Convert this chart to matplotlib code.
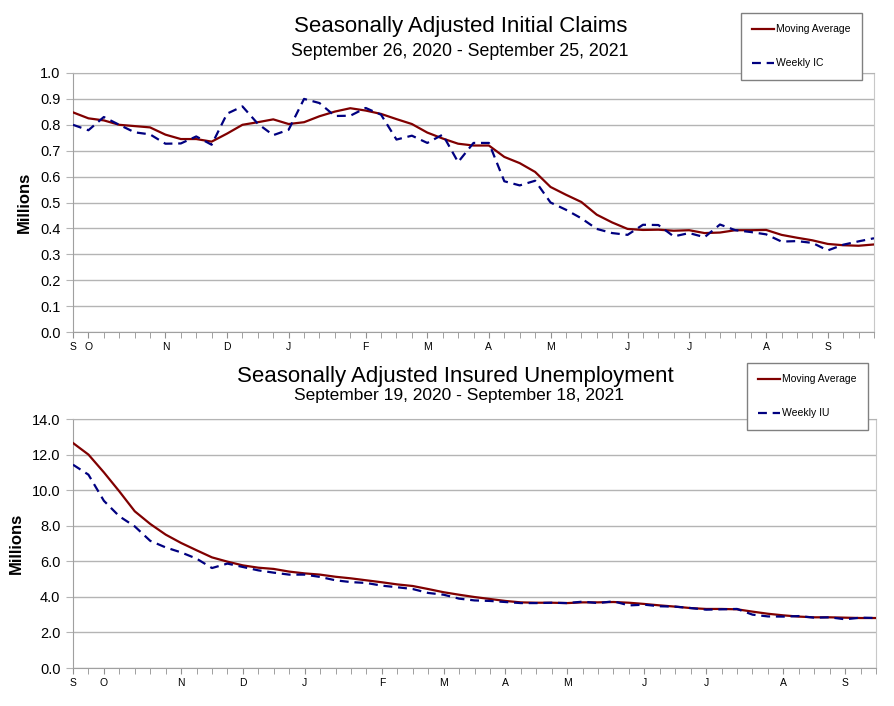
import matplotlib
matplotlib.use("Agg")
import matplotlib.pyplot as plt
import numpy as np

plt.rcParams['font.family'] = ['Liberation Sans', 'DejaVu Sans']

# Initial claims, weekly, Sep 26 2020 - Sep 25 2021 (millions)
ic_avg = [0.848, 0.825, 0.817, 0.800, 0.795, 0.790, 0.762, 0.745, 0.745, 0.735,
          0.766, 0.800, 0.810, 0.821, 0.803, 0.810, 0.833, 0.851, 0.864, 0.855,
          0.842, 0.822, 0.803, 0.770, 0.747, 0.727, 0.720, 0.720, 0.676, 0.652,
          0.618, 0.560, 0.530, 0.502, 0.453, 0.423, 0.398, 0.394, 0.395, 0.391,
          0.393, 0.382, 0.384, 0.393, 0.393, 0.394, 0.375, 0.364, 0.354, 0.340,
          0.335, 0.333, 0.338]
ic_weekly = [0.800, 0.779, 0.830, 0.800, 0.771, 0.763, 0.727, 0.728, 0.755, 0.723,
             0.843, 0.871, 0.804, 0.760, 0.781, 0.900, 0.884, 0.834, 0.835, 0.865,
             0.839, 0.743, 0.758, 0.730, 0.762, 0.656, 0.730, 0.730, 0.582, 0.566,
             0.584, 0.500, 0.472, 0.439, 0.398, 0.382, 0.375, 0.414, 0.413, 0.369,
             0.382, 0.366, 0.415, 0.393, 0.386, 0.377, 0.349, 0.351, 0.344, 0.315,
             0.337, 0.350, 0.362]
ic_month_idx = [0, 1, 6, 10, 14, 19, 23, 27, 31, 36, 40, 45, 49]

# Insured unemployment, weekly, Sep 19 2020 - Sep 18 2021 (millions)
iu_avg = [12.65, 12.00, 11.00, 9.93, 8.81, 8.10, 7.50, 7.03, 6.62, 6.22,
          5.98, 5.77, 5.64, 5.57, 5.42, 5.32, 5.25, 5.13, 5.04, 4.93,
          4.82, 4.70, 4.61, 4.44, 4.26, 4.12, 3.99, 3.88, 3.77, 3.69,
          3.67, 3.67, 3.65, 3.69, 3.69, 3.71, 3.67, 3.60, 3.52, 3.45,
          3.37, 3.32, 3.32, 3.30, 3.17, 3.05, 2.96, 2.89, 2.85, 2.85,
          2.83, 2.81, 2.81]
iu_weekly = [11.43, 10.87, 9.40, 8.53, 7.96, 7.15, 6.78, 6.50, 6.15, 5.62,
             5.87, 5.68, 5.49, 5.36, 5.25, 5.25, 5.12, 4.93, 4.83, 4.78,
             4.63, 4.54, 4.44, 4.22, 4.12, 3.90, 3.80, 3.77, 3.71, 3.65,
             3.65, 3.67, 3.65, 3.73, 3.65, 3.75, 3.52, 3.56, 3.47, 3.45,
             3.37, 3.28, 3.30, 3.32, 3.00, 2.90, 2.89, 2.92, 2.83, 2.85,
             2.74, 2.83, 2.81]
iu_month_idx = [0, 2, 7, 11, 15, 20, 24, 28, 32, 37, 41, 46, 50]

month_labels = ['S', 'O', 'N', 'D', 'J', 'F', 'M', 'A', 'M', 'J', 'J', 'A', 'S']

W, H = 894, 706
fig = plt.figure(figsize=(W / 100, H / 100), dpi=100)

GRID = '#b4b4b4'
RED = '#800000'
BLUE = '#000080'


def style_axes(ax, n, month_idx, ymax, ystep, fmt):
    ax.set_xlim(0, n - 1)
    ax.set_ylim(0, ymax)
    yt = np.arange(0, ymax + ystep / 2, ystep)
    ax.set_yticks(yt)
    ax.set_yticklabels([fmt % v for v in yt], fontsize=10.5)
    ax.yaxis.grid(True, color=GRID, lw=1)
    ax.set_axisbelow(True)
    ax.set_xticks(range(n), minor=True)
    ax.set_xticks(month_idx)
    ax.set_xticklabels(month_labels, fontsize=7.5)
    ax.tick_params(axis='x', which='both', length=4, color='#909090', pad=3)
    ax.tick_params(axis='y', length=5, color=GRID, pad=4)
    for s in ['left', 'bottom']:
        ax.spines[s].set_color('#a0a0a0')
    ax.spines['right'].set_color('#c8c8c8')
    ax.spines['top'].set_color(GRID)
    ax.set_ylabel('Millions', fontsize=12, fontweight='bold', labelpad=6)


def legend(ax, labels, x0, y0):
    leg = ax.legend(labels, loc='upper left', bbox_to_anchor=(x0 / W, 1 - y0 / H),
                    bbox_transform=fig.transFigure, borderaxespad=0,
                    fontsize=7.5, handlelength=2.1, handletextpad=0.15,
                    labelspacing=2.3, borderpad=1.1, fancybox=False,
                    framealpha=1, edgecolor='#808080')
    leg.get_frame().set_linewidth(1)


# top chart
ax1 = fig.add_axes([73 / W, 1 - 332 / H, 801 / W, 259 / H])
x1 = np.arange(len(ic_avg))
ax1.plot(x1, ic_avg, color=RED, lw=1.6, zorder=3)
ax1.plot(x1, ic_weekly, color=BLUE, lw=1.6, dashes=(4, 2.6), zorder=3)
style_axes(ax1, len(ic_avg), ic_month_idx, 1.0, 0.1, '%.1f')
legend(ax1, ['Moving Average', 'Weekly IC'], 741, 13)
fig.text(461 / W, 1 - 32 / H, 'Seasonally Adjusted Initial Claims',
         ha='center', va='baseline', fontsize=16)
fig.text(460 / W, 1 - 56 / H, 'September 26, 2020 - September 25, 2021',
         ha='center', va='baseline', fontsize=12.8)

# bottom chart
ax2 = fig.add_axes([73 / W, 1 - 668 / H, 803 / W, 249 / H])
x2 = np.arange(len(iu_avg))
ax2.plot(x2, iu_avg, color=RED, lw=1.6, zorder=3)
ax2.plot(x2, iu_weekly, color=BLUE, lw=1.6, dashes=(4, 2.6), zorder=3)
style_axes(ax2, len(iu_avg), iu_month_idx, 14.0, 2.0, '%.1f')
legend(ax2, ['Moving Average', 'Weekly IU'], 747, 363)
fig.text(455 / W, 1 - 382 / H, 'Seasonally Adjusted Insured Unemployment',
         ha='center', va='baseline', fontsize=16)
fig.text(459 / W, 1 - 400 / H, 'September 19, 2020 - September 18, 2021',
         ha='center', va='baseline', fontsize=12.5)

fig.savefig('out.png', dpi=100)
